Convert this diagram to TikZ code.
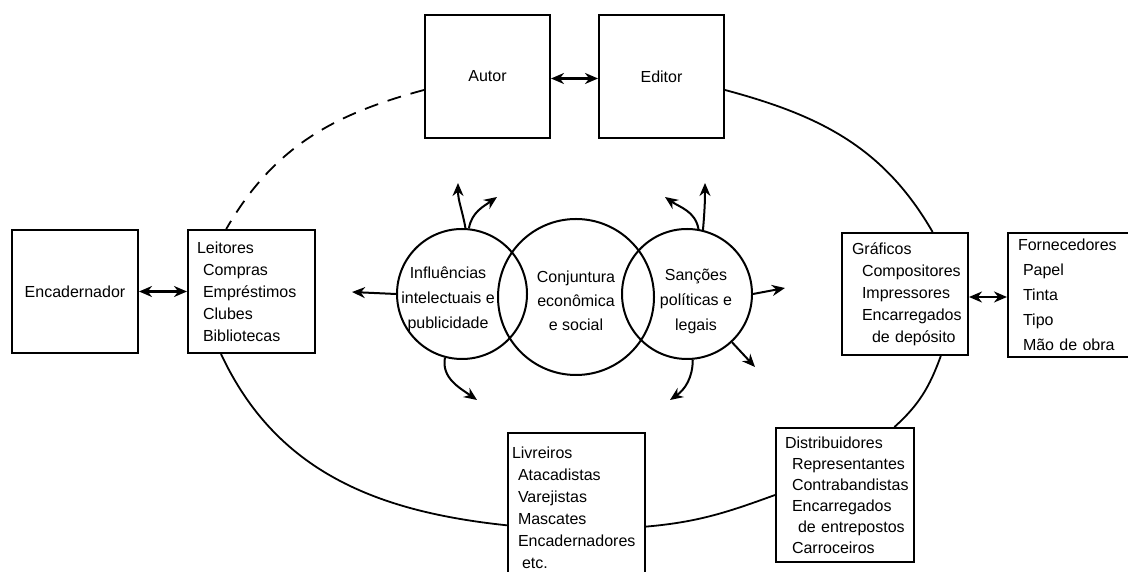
\documentclass[tikz,border=0pt]{standalone}
\usepackage{fontspec}
\setmainfont{Liberation Sans}
\usepackage{tikz}
\usetikzlibrary{arrows.meta}

\newcommand{\recuo}[1][3pt]{\hspace*{#1}}
\hyphenpenalty=10000
\exhyphenpenalty=10000

\tikzset{
  caixa/.style={draw, line width=1pt, inner ysep=0pt},
  lista/.style={caixa, align=left},
  roda/.style={circle, draw, line width=1pt, inner sep=0pt},
  ciclo/.style={line width=0.9pt},
  seta/.style={-{Stealth[length=6.5pt,width=5.5pt]}, line width=1pt},
  seta2/.style={{Stealth[length=6.5pt,width=5.5pt]}-{Stealth[length=6.5pt,width=5.5pt]}, line width=1.3pt}
}

\begin{document}
\begin{tikzpicture}[x=0.5pt, y=0.5pt, every node/.style={font=\fontsize{8}{11}\selectfont}]
            \clip (0,0) rectangle (1128,572);
            % boxes
            \node[caixa, minimum width=62.5pt, minimum height=61.5pt] (autor) at (487.5,495.5) {Autor};
            \node[caixa, minimum width=62.5pt, minimum height=61.5pt] (editor) at (661.5,495.5) {Editor};
            \node[caixa, minimum width=63pt, minimum height=61.5pt] (encadernador) at (75,280.5) {Encadernador};
            \node[lista, text width=54.5pt, inner xsep=4.5pt, minimum height=61.5pt] (leitores) at (251.5,280.5)
                {Leitores\\\recuo Compras\\\recuo Empréstimos\\\recuo Clubes\\\recuo Bibliotecas};
            \node[lista, text width=53pt, inner xsep=5pt, minimum height=61pt] (graficos) at (905,278)
                {Gráficos\\\recuo[5pt]Compositores\\\recuo[5pt]Impressores\\\recuo[5pt]Encarregados\\\recuo[10pt]de~depósito};
            \node[lista, text width=56pt, inner xsep=5pt, minimum height=62pt,
                  font=\fontsize{8}{12.5}\selectfont] (fornecedores) at (1074,277)
                {Fornecedores\\\recuo[2.5pt]Papel\\\recuo[2.5pt]Tinta\\\recuo[2.5pt]Tipo\\\recuo[2.5pt]Mão~de~obra};
            \node[lista, text width=64.5pt, inner xsep=2pt, minimum height=75pt] (livreiros) at (576.5,64)
                {Livreiros\\\recuo Atacadistas\\\recuo Varejistas\\\recuo Mascates\\\recuo Encadernadores\\\recuo[5pt]etc.};
            \node[lista, text width=60pt, inner xsep=4.5pt, minimum height=67pt,
                  font=\fontsize{8}{10.5}\selectfont] (distribuidores) at (845,77)
                {Distribuidores\\\recuo[3.5pt]Representantes\\\recuo[3.5pt]Contrabandistas\\\recuo[3.5pt]Encarregados\\\recuo[6.5pt]de~entrepostos\\\recuo[3.5pt]Carroceiros};
            % circles
            \node[roda, minimum size=65pt, label={[align=center, xshift=-7pt, yshift=-2.5pt, font=\fontsize{8}{12.5}\selectfont]center:Influências\\intelectuais~e\\publicidade}] (influencias) at (462,278) {};
            \node[roda, minimum size=78pt, label={[align=center, yshift=-2pt, font=\fontsize{8}{12}\selectfont]center:Conjuntura\\econômica\\e~social}] (conjuntura) at (576,275) {};
            \node[roda, minimum size=65pt, label={[align=center, xshift=4.5pt, yshift=-3.5pt, font=\fontsize{8}{12.5}\selectfont]center:Sanções\\políticas~e\\legais}] (sancoes) at (687,278) {};
            % free ends
            \coordinate (infesq) at (352,280);
            \coordinate (infcima) at (458,389);
            \coordinate (infdir) at (497,375);
            \coordinate (infbaixo) at (477,172);
            \coordinate (sancima) at (705,389);
            \coordinate (sanesq) at (665,375);
            \coordinate (sandir) at (785,284);
            \coordinate (sandiag) at (755,205);
            \coordinate (sanbaixo) at (670,172);
            % double arrows
            \draw[seta2] ([yshift=-1pt]autor.east) -- ([yshift=-1pt]editor.west);
            \draw[seta2] (encadernador.east) -- (leitores.west);
            \draw[seta2] ([yshift=-1.5pt]graficos.east) -- ([yshift=-1.5pt]graficos.east -| fornecedores.west);
            % the cycle
            \draw[ciclo, dashed, dash pattern=on 7pt off 5pt] (autor.192) to[out=195,in=60] (leitores.112);
            \draw[ciclo] (editor.-12) to[out=-15,in=120] (graficos.66);
            \draw[ciclo] (graficos.-60) to[out=-110,in=42] (distribuidores.54);
            \draw[ciclo] (distribuidores.west) to[out=200,in=5] (livreiros.-15);
            \draw[ciclo] (livreiros.194) to[out=174,in=-65] (leitores.244);
            % influences
            \draw[seta] (influencias.west) -- (infesq);
            \draw[seta] (influencias.87) to[out=100,in=-90] (infcima);
            \draw[seta] (influencias.84) to[out=80,in=215] (infdir);
            \draw[seta] (influencias.-105) to[out=-100,in=145] (infbaixo);
            \draw[seta] (sancoes.76) to[out=85,in=-90] (sancima);
            \draw[seta] (sancoes.80) to[out=100,in=-35] (sanesq);
            \draw[seta] (sancoes.east) -- (sandir);
            \draw[seta] (sancoes.-47) -- (sandiag);
            \draw[seta] (sancoes.-85) to[out=-90,in=35] (sanbaixo);
\end{tikzpicture}
\end{document}
